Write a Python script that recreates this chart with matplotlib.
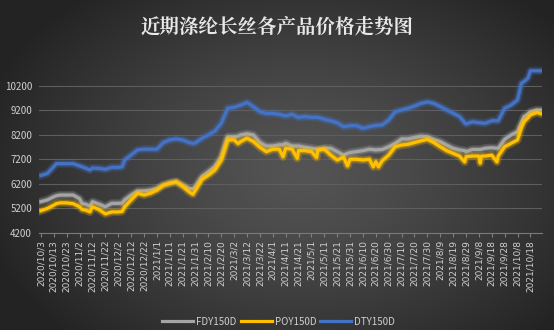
import numpy as np
import pandas as pd
import matplotlib
matplotlib.use('Agg')
import matplotlib.pyplot as plt
import matplotlib.patheffects as pe

plt.rcParams['font.family'] = ['Noto Sans CJK SC', 'DejaVu Sans']

# 价格数据 (元/吨)
dates = ['2020/10/3', '2020/10/8', '2020/10/13', '2020/10/15', '2020/10/18', '2020/10/23', '2020/10/28',
         '2020/11/2', '2020/11/4', '2020/11/7', '2020/11/10', '2020/11/12', '2020/11/17', '2020/11/22',
         '2020/11/27', '2020/12/2', '2020/12/5', '2020/12/7', '2020/12/12', '2020/12/17', '2020/12/22',
         '2020/12/27', '2021/1/1', '2021/1/6', '2021/1/11', '2021/1/16', '2021/1/21', '2021/1/26',
         '2021/1/29', '2021/1/31', '2021/2/5', '2021/2/10', '2021/2/15', '2021/2/20', '2021/2/25',
         '2021/3/2', '2021/3/5', '2021/3/7', '2021/3/12', '2021/3/17', '2021/3/22', '2021/3/27',
         '2021/4/1', '2021/4/6', '2021/4/9', '2021/4/11', '2021/4/16', '2021/4/20', '2021/4/21',
         '2021/4/26', '2021/5/1', '2021/5/5', '2021/5/6', '2021/5/11', '2021/5/16', '2021/5/21',
         '2021/5/26', '2021/5/29', '2021/5/31', '2021/6/5', '2021/6/10', '2021/6/15', '2021/6/18',
         '2021/6/20', '2021/6/22', '2021/6/25', '2021/6/30', '2021/7/5', '2021/7/10', '2021/7/15',
         '2021/7/20', '2021/7/25', '2021/7/30', '2021/8/4', '2021/8/9', '2021/8/14', '2021/8/19',
         '2021/8/24', '2021/8/28', '2021/8/29', '2021/9/3', '2021/9/8', '2021/9/9', '2021/9/10',
         '2021/9/13', '2021/9/18', '2021/9/22', '2021/9/23', '2021/9/28', '2021/10/3', '2021/10/8',
         '2021/10/11', '2021/10/13', '2021/10/16', '2021/10/18', '2021/10/23', '2021/10/26']

fdy = [5480, 5550, 5680, 5720, 5750, 5750, 5750,
       5600, 5410, 5370, 5300, 5480, 5380, 5270,
       5410, 5410, 5420, 5550, 5750, 5910, 5920,
       5950, 6020, 6150, 6250, 6290, 6150, 6020,
       6000, 6100, 6500, 6700, 6910, 7310, 8130,
       8130, 8150, 8200, 8250, 8200, 7890, 7750,
       7750, 7800, 7800, 7860, 7750, 7750, 7750,
       7700, 7660, 7620, 7620, 7660, 7660, 7520,
       7380, 7450, 7480, 7520, 7560, 7620, 7600,
       7590, 7600, 7610, 7720, 7860, 8040, 8040,
       8100, 8150, 8130, 8020, 7930, 7790, 7660,
       7590, 7560, 7520, 7610, 7610, 7610, 7620,
       7660, 7680, 7660, 7660, 8020, 8200, 8340,
       8700, 8950, 9050, 9150, 9220, 9220]

poy = [5110, 5200, 5340, 5400, 5430, 5430, 5400,
       5270, 5160, 5130, 5060, 5270, 5160, 4980,
       5060, 5060, 5080, 5270, 5550, 5820, 5750,
       5820, 5950, 6150, 6220, 6290, 6110, 5880,
       5780, 5950, 6390, 6560, 6770, 7180, 8000,
       8000, 7850, 7930, 8070, 7930, 7700, 7520,
       7620, 7620, 7310, 7660, 7620, 7250, 7560,
       7560, 7520, 7280, 7590, 7620, 7380, 7180,
       7290, 6940, 7210, 7210, 7180, 7210, 6900,
       7110, 6900, 7150, 7380, 7720, 7790, 7820,
       7890, 7960, 8020, 7890, 7720, 7560, 7450,
       7340, 7100, 7310, 7340, 7340, 7050, 7340,
       7340, 7380, 7100, 7340, 7720, 7860, 8000,
       8500, 8740, 8900, 9020, 9120, 9070]

dty = [6550, 6630, 6910, 7030, 7030, 7030, 7030,
       6940, 6900, 6840, 6770, 6850, 6840, 6800,
       6880, 6880, 6900, 7180, 7380, 7590, 7620,
       7620, 7620, 7890, 8000, 8040, 8000, 7890,
       7860, 7880, 8065, 8200, 8360, 8680, 9290,
       9330, 9380, 9420, 9530, 9350, 9150, 9080,
       9080, 9050, 9000, 8975, 9050, 8930, 8920,
       8950, 8920, 8920, 8920, 8840, 8780, 8700,
       8540, 8560, 8580, 8580, 8470, 8540, 8570,
       8590, 8600, 8610, 8810, 9150, 9220, 9290,
       9380, 9490, 9550, 9490, 9360, 9220, 9090,
       8950, 8700, 8650, 8740, 8700, 8700, 8690,
       8680, 8780, 8780, 8780, 9290, 9420, 9630,
       10310, 10380, 10520, 10820, 10820, 10820]

series = [('FDY150D', fdy, '#A5A5A5'),
          ('POY150D', poy, '#FFC000'),
          ('DTY150D', dty, '#4472C4')]

t = pd.to_datetime(dates, format='%Y/%m/%d')
start = t[0]
days = np.array((t - start).days)

# 横轴每10天一个刻度
tick_dates = pd.date_range(start, '2021/10/18', freq='10D')
tick_pos = np.array((tick_dates - start).days)
tick_lab = ['%d/%d/%d' % (d.year, d.month, d.day) for d in tick_dates]

fig = plt.figure(figsize=(5.54, 3.30), dpi=100)

# 背景径向渐变
bg = fig.add_axes([0, 0, 1, 1])
yy, xx = np.mgrid[0:330, 0:554]
r = np.sqrt(((xx - 300) / 330.0) ** 2 + ((yy - 170) / 230.0) ** 2)
r = np.clip(r, 0, 1)
shade = 0.33 - 0.19 * r ** 1.3
bg.imshow(np.dstack([shade, shade, shade]), aspect='auto', extent=[0, 1, 0, 1])
bg.set_axis_off()

ax = fig.add_axes([39 / 554, 1 - 233 / 330, (542 - 39) / 554, (233 - 61) / 330])
ax.patch.set_alpha(0)

for name, vals, col in series:
    ax.plot(days, vals, color=col, lw=2.3, label=name, solid_joinstyle='round',
            path_effects=[pe.Stroke(linewidth=6, foreground=col, alpha=0.22),
                          pe.Stroke(linewidth=4, foreground=col, alpha=0.3),
                          pe.Normal()])

ax.set_xlim(-1.5, 389)
ax.set_ylim(4200, 11220)
ax.set_yticks(np.arange(4200, 10201, 1000))
ax.set_xticks(tick_pos)
ax.set_xticklabels(tick_lab, rotation=90, fontsize=6.5, color='#d0d0d0', family='DejaVu Sans')
ax.tick_params(axis='x', length=3, color='#808080', pad=2)
ax.tick_params(axis='y', length=0, labelsize=7, labelcolor='#d0d0d0', pad=5)
ax.grid(axis='y', color='#5e5e5e', lw=0.8)
for s in ['top', 'right', 'left']:
    ax.spines[s].set_visible(False)
ax.spines['bottom'].set_color('#7a7a7a')

fig.text(0.5, 0.918, '近期涤纶长丝各产品价格走势图', ha='center', va='center',
         fontsize=14, color='#e8e8e8', fontweight='bold',
         family=['Noto Serif CJK SC', 'Noto Sans CJK SC'])

leg = fig.legend(loc='center', bbox_to_anchor=(0.503, 0.025), ncol=3, frameon=False,
                 fontsize=7, handlelength=3.2, handletextpad=0.3, columnspacing=0.4,
                 labelcolor='#d0d0d0')
for h in leg.get_lines():
    h.set_linewidth(2.3)
    h.set_path_effects([])

fig.savefig('out.png', dpi=100)
